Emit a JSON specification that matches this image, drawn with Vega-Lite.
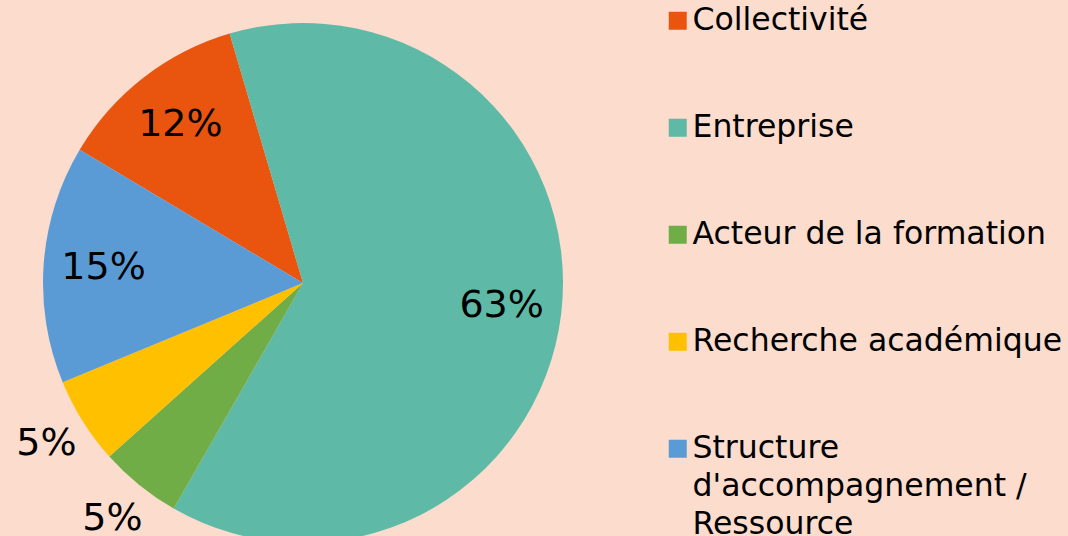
{
  "$schema": "https://vega.github.io/schema/vega-lite/v6.json",
  "width": 606,
  "height": 566,
  "autosize": {"type": "none"},
  "padding": {"left": 0, "top": 0, "right": 462, "bottom": 0},
  "background": "#FBDCCD",
  "config": {"view": {"stroke": null}, "font": "DejaVu Sans", "style": {"guide-label": {"lineHeight": 38}}},
  "data": {
    "values": [
      {"categorie": "Collectivité", "pct": 0.119, "ordre": 5},
      {"categorie": "Entreprise", "pct": 0.629, "ordre": 1},
      {"categorie": "Acteur de la formation", "pct": 0.051, "ordre": 2},
      {"categorie": "Recherche académique", "pct": 0.054, "ordre": 3},
      {"categorie": "Structure d'accompagnement / Ressource", "pct": 0.148, "ordre": 4}
    ]
  },
  "encoding": {
    "theta": {"field": "pct", "type": "quantitative", "stack": true, "scale": {"range": [-0.2862, 5.997]}},
    "order": {"field": "ordre", "type": "quantitative"}
  },
  "layer": [
    {
      "mark": {"type": "arc", "outerRadius": 260, "stroke": null},
      "encoding": {
        "color": {
          "field": "categorie",
          "type": "nominal",
          "scale": {
            "domain": ["Collectivité", "Entreprise", "Acteur de la formation", "Recherche académique", "Structure d'accompagnement / Ressource"],
            "range": ["#E9540F", "#5EBAA6", "#70AD47", "#FFC000", "#5B9BD5"]
          },
          "legend": {
            "title": null,
            "orient": "none",
            "legendX": 662,
            "legendY": 5,
            "symbolType": "square",
            "symbolSize": 324,
            "symbolStrokeWidth": 0,
            "labelFontSize": 31.5,
            "labelFont": "DejaVu Sans",
            "labelColor": "#000000",
            "labelOffset": -1,
            "labelLimit": 0,
            "rowPadding": 74,
            "labelExpr": "datum.label == \"Structure d'accompagnement / Ressource\" ? ['Structure', \"d'accompagnement /\", 'Ressource'] : datum.label"
          }
        }
      }
    },
    {
      "mark": {"type": "text", "radius": 200, "fontSize": 38, "font": "DejaVu Sans", "color": "#000000"},
      "encoding": {"text": {"condition": {"test": "datum.pct >= 0.1", "field": "pct", "type": "quantitative", "format": ".0%"}, "value": ""}}
    },
    {
      "mark": {"type": "text", "radius": 303, "fontSize": 38, "font": "DejaVu Sans", "color": "#000000"},
      "encoding": {"text": {"condition": {"test": "datum.pct < 0.1", "field": "pct", "type": "quantitative", "format": ".0%"}, "value": ""}}
    }
  ]
}
